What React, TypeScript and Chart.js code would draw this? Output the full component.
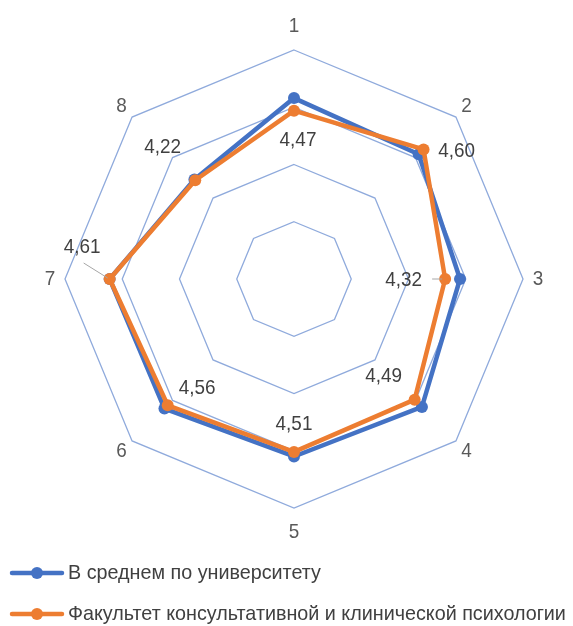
import { useEffect, useRef } from 'react';
import { Chart, registerables } from 'chart.js';

Chart.register(...registerables);

// ---- data ----
const categories = ['1', '2', '3', '4', '5', '6', '7', '8'];
const universityAvg = [4.58, 4.54, 4.45, 4.58, 4.55, 4.6, 4.61, 4.23];
const facultyValues = [4.47, 4.6, 4.32, 4.49, 4.51, 4.56, 4.61, 4.22];
const seriesNames = ['В среднем по университету', 'Факультет консультативной и клинической психологии'];
const scaleMin = 3;
const scaleMax = 5;
const scaleStep = 0.5;

// ---- styles ----
const BLUE = '#4472C4';
const ORANGE = '#ED7D31';
const GRID = '#8FAADC';
const FONT = '21px "Liberation Sans", Arial, sans-serif';

// data-label offsets relative to the labelled point (style only)
const labelOffsets: [number, number][] = [
  [4, 30], [33, 1.5], [-41.5, 1], [-31, -23.5], [0, -28], [29.5, -17], [-27.5, -31.5], [-32.5, -33.5],
];
// leader lines [x1,y1,x2,y2] relative to the point
const leaders: Record<number, [number, number, number, number]> = {
  2: [-13, 0, -3, 0],
  6: [-26, -16, -2, -1],
};

function drawText(
  ctx: CanvasRenderingContext2D,
  text: string,
  x: number,
  y: number,
  align: CanvasTextAlign,
  color: string,
  squeeze = 0.9
) {
  ctx.save();
  ctx.translate(x, y);
  ctx.scale(squeeze, 1);
  ctx.font = FONT;
  ctx.fillStyle = color;
  ctx.textAlign = align;
  ctx.textBaseline = 'middle';
  ctx.fillText(text, 0, 0);
  ctx.restore();
}

const overlayPlugin = {
  id: 'overlay',
  afterDraw(chart: any) {
    const ctx: CanvasRenderingContext2D = chart.ctx;
    const scale = chart.scales.r;
    // axis (point) labels
    categories.forEach((c, i) => {
      const extra = i % 4 === 0 ? 24 : 15;
      const p = scale.getPointPosition(i, scale.drawingArea + extra);
      drawText(ctx, c, p.x, p.y, 'center', '#595959');
    });
    // data labels for the faculty series
    const meta = chart.getDatasetMeta(1);
    meta.data.forEach((pt: any, i: number) => {
      const lead = leaders[i];
      if (lead) {
        ctx.save();
        ctx.strokeStyle = '#A6A6A6';
        ctx.lineWidth = 1;
        ctx.beginPath();
        ctx.moveTo(pt.x + lead[0], pt.y + lead[1]);
        ctx.lineTo(pt.x + lead[2], pt.y + lead[3]);
        ctx.stroke();
        ctx.restore();
      }
      const [dx, dy] = labelOffsets[i];
      const txt = facultyValues[i].toFixed(2).replace('.', ',');
      drawText(ctx, txt, pt.x + dx, pt.y + dy, 'center', '#404040');
    });
    // legend
    const rows = [573, 614];
    chart.data.datasets.forEach((ds: any, i: number) => {
      const y = rows[i];
      ctx.save();
      ctx.strokeStyle = ds.borderColor;
      ctx.lineWidth = 4.5;
      ctx.lineCap = 'round';
      ctx.beginPath();
      ctx.moveTo(12, y);
      ctx.lineTo(62, y);
      ctx.stroke();
      ctx.fillStyle = ds.borderColor;
      ctx.beginPath();
      ctx.arc(37, y, 6, 0, Math.PI * 2);
      ctx.fill();
      ctx.restore();
      drawText(ctx, ds.label, 68, y, 'left', '#404040', 0.94);
    });
  },
};

export default function App() {
  const ref = useRef<HTMLCanvasElement | null>(null);
  useEffect(() => {
    if (!ref.current) return;
    const chart = new Chart(ref.current, {
      type: 'radar',
      data: {
        labels: categories,
        datasets: [
          {
            label: seriesNames[0],
            data: universityAvg,
            borderColor: BLUE,
            backgroundColor: BLUE,
            pointBackgroundColor: BLUE,
            pointBorderColor: BLUE,
            borderWidth: 4.5,
            pointRadius: 6,
            pointBorderWidth: 0,
            fill: false,
            order: 1,
          },
          {
            label: seriesNames[1],
            data: facultyValues,
            borderColor: ORANGE,
            backgroundColor: ORANGE,
            pointBackgroundColor: ORANGE,
            pointBorderColor: ORANGE,
            borderWidth: 4.5,
            pointRadius: 6,
            pointBorderWidth: 0,
            fill: false,
            order: 0,
          },
        ],
      },
      options: {
        responsive: false,
        animation: false,
        layout: { padding: { left: 16, right: 0, top: 50, bottom: 118 } },
        plugins: { legend: { display: false }, tooltip: { enabled: false } },
        elements: { line: { tension: 0, borderJoinStyle: 'round' } },
        scales: {
          r: {
            min: scaleMin,
            max: scaleMax,
            ticks: { stepSize: scaleStep, display: false },
            grid: { color: GRID, lineWidth: 1.3, circular: false },
            angleLines: { display: false },
            pointLabels: { display: false },
          },
        },
      },
      plugins: [overlayPlugin],
    });
    return () => chart.destroy();
  }, []);
  return (
    <div style={{ position: 'absolute', left: 0, top: 0, width: 573, height: 626 }}>
      <canvas ref={ref} width={573} height={626} style={{ display: 'block' }} />
    </div>
  );
}
